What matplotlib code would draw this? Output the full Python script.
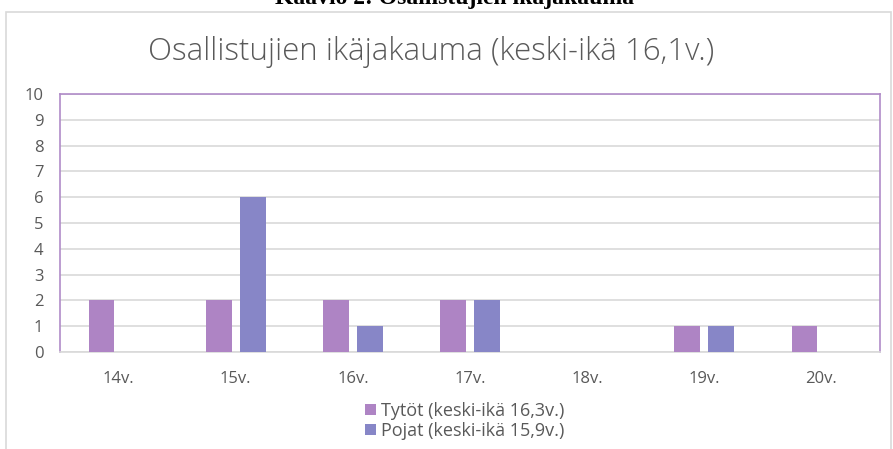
import numpy as np
import matplotlib.pyplot as plt
from matplotlib.patches import Rectangle

ages = ['14v.', '15v.', '16v.', '17v.', '18v.', '19v.', '20v.']
tytot = [2, 2, 2, 2, 0, 1, 1]
pojat = [0, 6, 1, 2, 0, 1, 0]
labels = ['Tytöt (keski-ikä 16,3v.)', 'Pojat (keski-ikä 15,9v.)']
title = 'Osallistujien ikäjakauma (keski-ikä 16,1v.)'
caption = 'Kaavio 2: Osallistujien ikäjakauma'

c_t = '#AE84C4'
c_p = '#8786C7'
txt = '#595959'
font = 'Open Sans'

W, H = 893, 449
fig = plt.figure(figsize=(W / 100, H / 100), dpi=100)

# outer chart border (cut off on right/bottom)
fig.patches.append(Rectangle((6 / W, 1 - 460 / H), 885 / W, 448 / H,
                             transform=fig.transFigure, fill=False,
                             edgecolor='#D9D9D9', lw=1.2))
# caption above the chart, mostly cut off like in the source
fig.text(455 / W, 1 - 4 / H, caption, ha='center', va='baseline',
         family='Liberation Serif', fontsize=17, fontweight='bold',
         color='black')

ax = fig.add_axes([60 / W, 1 - 352 / H, 820 / W, 258 / H])
x = np.arange(len(ages))
w = 0.22
ax.bar(x - 0.145, tytot, w, color=c_t, label=labels[0], zorder=3)
ax.bar(x + 0.145, pojat, w, color=c_p, label=labels[1], zorder=3)

ax.set_xlim(-0.5, len(ages) - 0.5)
ax.set_ylim(0, 10)
ax.set_yticks(range(0, 11))
ax.set_xticks(x)
ax.set_xticklabels(ages)
ax.yaxis.grid(True, color='#D9D9D9', lw=1.2, zorder=0)
ax.tick_params(length=0, labelsize=12, labelcolor=txt)
ax.tick_params(axis='y', pad=12)
ax.tick_params(axis='x', pad=14)
for s in ['left', 'top', 'right']:
    ax.spines[s].set_color('#B08BC8')
    ax.spines[s].set_linewidth(1.2)
ax.spines['bottom'].set_color('#D9D9D9')
ax.spines['bottom'].set_linewidth(1.2)
for t in ax.get_xticklabels() + ax.get_yticklabels():
    t.set_family(font)

fig.text(431 / W, 1 - 52 / H, title, ha='center', va='center',
         family=font, fontsize=22.5, color=txt, fontweight='light')

leg = fig.legend(loc='center', bbox_to_anchor=(465 / W, 1 - 421 / H),
                 ncol=1, frameon=False, handlelength=0.6, handleheight=0.6,
                 handletextpad=0.3, labelspacing=0.1, borderpad=0,
                 prop={'family': font, 'size': 13})
for t in leg.get_texts():
    t.set_color(txt)

fig.savefig('out.png', dpi=100)
